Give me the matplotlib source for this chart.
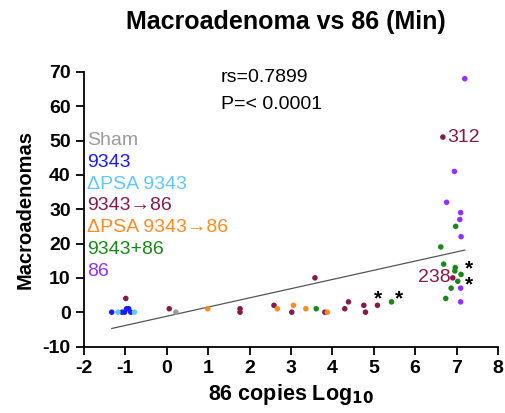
import numpy as np
import matplotlib.pyplot as plt

plt.rcParams['font.family'] = ['Liberation Sans', 'DejaVu Sans']
plt.rcParams['axes.unicode_minus'] = False

# data: (86 copies log10, macroadenomas)
sham_x = [0.22]
sham_y = [0]
wt_x = [-1.33, -1.08, -1.02, -0.97, -0.92, -0.87]
wt_y = [0, 0, 0, 1, 1, 0]
dpsa_x = [-1.18, -0.78]
dpsa_y = [0, 0]
seq_x = [-0.99, 0.06, 1.77, 1.77, 2.59, 3.02, 3.58, 3.82, 4.30, 4.39, 4.76, 4.80, 5.09, 6.67, 6.91]
seq_y = [4, 1, 1, 0, 2, 0, 10, 0, 1, 3, 2, 0, 2, 51, 10]
dpsa_seq_x = [0.99, 2.67, 3.06, 3.36, 3.88]
dpsa_seq_y = [1, 1, 2, 1, 0]
co_x = [3.61, 5.43, 6.62, 6.69, 6.74, 6.87, 6.96, 6.97, 6.98, 7.03, 7.11]
co_y = [1, 3, 19, 14, 4, 7, 12, 13, 25, 9, 11]
only86_x = [6.76, 6.95, 7.08, 7.10, 7.10, 7.10, 7.11, 7.20]
only86_y = [32, 41, 27, 29, 7, 3, 22, 68]

groups = [
    ('Sham', sham_x, sham_y, '#9b9b9b'),
    ('9343', wt_x, wt_y, '#1a1aff'),
    ('\u0394PSA 9343', dpsa_x, dpsa_y, '#5fc8fa'),
    ('9343\u219286', seq_x, seq_y, '#861a4a'),
    ('\u0394PSA 9343\u219286', dpsa_seq_x, dpsa_seq_y, '#ff8a1e'),
    ('9343+86', co_x, co_y, '#168a16'),
    ('86', only86_x, only86_y, '#9230ff'),
]

fig = plt.figure(figsize=(5.06, 4.13), dpi=100)
ax = fig.add_axes([0.166, 0.161, 0.818, 0.665])

all_x = []
all_y = []
for name, xs, ys, col in groups:
    ax.scatter(xs, ys, s=16, color=col, edgecolors='none', zorder=3)
    all_x += xs
    all_y += ys

# linear fit line over the data range
slope, icpt = np.polyfit(all_x, all_y, 1)
lx = np.array([min(all_x), max(all_x)])
ax.plot(lx, slope * lx + icpt, color='#555555', lw=0.9, zorder=2)

# legend as coloured text
for i, (name, xs, ys, col) in enumerate(groups):
    ax.text(-1.93, 50 - i * 6.35, name, color=col, fontsize=14,
            va='center', ha='left')

ax.text(1.3, 68.5, 'rs=0.7899', fontsize=14, va='center')
ax.text(1.3, 60.5, 'P=< 0.0001', fontsize=14, va='center')

ax.text(6.78, 51, '312', color='#861a4a', fontsize=14, va='center')
ax.text(6.86, 10, '238', color='#861a4a', fontsize=14, va='center', ha='right')
for sx, sy in [(5.1, 4.0), (5.62, 4.0)]:
    ax.text(sx, sy, '*', fontsize=15, fontweight='bold', ha='center', va='center')
# stacked pair of stars next to the 238 point
ax.text(7.31, 10.3, '*\n*', fontsize=15, fontweight='bold', ha='center',
        va='center', linespacing=0.75)

ax.set_xlim(-2, 8)
ax.set_ylim(-10, 70)
ax.set_xticks(range(-2, 9))
ax.set_yticks(range(-10, 71, 10))
for s in ['top', 'right']:
    ax.spines[s].set_visible(False)
for s in ['left', 'bottom']:
    ax.spines[s].set_linewidth(1.3)
ax.tick_params(width=1.3, length=6, labelsize=14)
for lab in ax.get_xticklabels() + ax.get_yticklabels():
    lab.set_fontweight('bold')

ax.set_xlabel('86 copies Log$_{\\mathbf{10}}$', fontsize=15.5, fontweight='bold', labelpad=4)
ax.set_ylabel('Macroadenomas', fontsize=14.5, fontweight='bold', labelpad=6)
fig.suptitle('Macroadenoma vs 86 (Min)', fontsize=18, fontweight='bold', x=0.565, y=0.975)

fig.savefig('out.png', dpi=100)
